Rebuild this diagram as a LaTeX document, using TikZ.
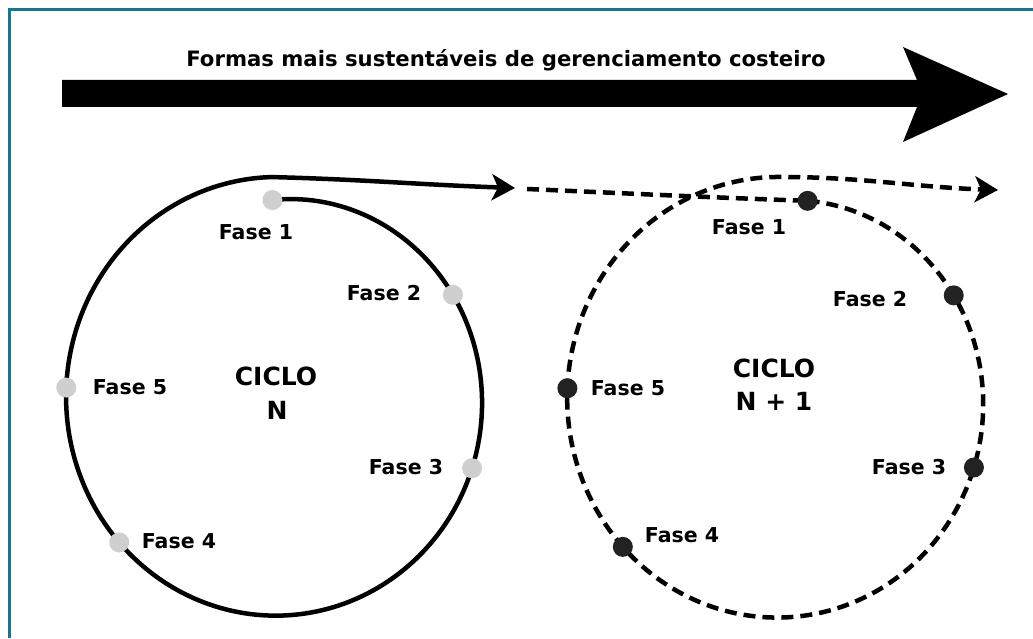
\documentclass[tikz,border=0pt]{standalone}
\usepackage{fontspec}
\setmainfont{DejaVu Sans}
\usetikzlibrary{arrows.meta}
\definecolor{frame}{HTML}{17768A}
\definecolor{dotlight}{HTML}{CFCFCF}
\definecolor{dotdark}{HTML}{222222}
\tikzset{
  declare function={
    sL(\u)=1.014-0.106*(1-\u)^4;
    lpx(\u)=277.4+208.5*sL(\u)*cos(91.5-360*\u);
    lpy(\u)=241+217*sL(\u)*sin(91.5-360*\u);
    sR(\u)=1.014-0.099*(1-\u)^4;
    rpx(\u)=778.7+208.7*sR(\u)*cos(81.3-351.3*\u);
    rpy(\u)=240+218*sR(\u)*sin(81.3-351.3*\u);
  },
  dotL/.style={circle, fill=dotlight, minimum size=20pt, inner sep=0pt},
  dotR/.style={circle, fill=dotdark, minimum size=20pt, inner sep=0pt},
  fase/.style={anchor=base, font=\bfseries\fontsize{20.5}{24}\selectfont, inner sep=0pt},
  ciclo/.style={anchor=base, font=\bfseries\fontsize{25}{30}\selectfont, inner sep=0pt},
  solidpath/.style={line width=4.5pt},
  dashpath/.style={line width=4.5pt, dash pattern=on 12pt off 7pt},
  tipped/.style={-{Stealth[length=23pt,width=26pt,inset=6pt]}},
}
\begin{document}
\begin{tikzpicture}[x=1pt,y=1pt]
\useasboundingbox (0,0) rectangle (1033,638);
\fill[white] (0,0) rectangle (1033,638);
\draw[frame, line width=3pt] (9.8,0) -- (9.8,628.2) -- (1033,628.2);

% big arrow
\fill[black] (62,558) -- (917,558) -- (903,591) -- (1008,544) -- (903,496) -- (917,531) -- (62,531) -- cycle;
\node[anchor=base, font=\bfseries\fontsize{21.2}{25}\selectfont, inner sep=0pt] (title) at (506,571) {Formas mais sustentáveis de gerenciamento costeiro};

% left cycle
\coordinate (lend) at (515,450);
\draw[solidpath, tipped] plot[domain=0:1, samples=180, variable=\u, smooth] ({lpx(\u)},{lpy(\u)})
  to[out=-1.5,in=178] (lend);
\node[dotL] (l1) at ({lpx(0)},{lpy(0)}) {};
\node[dotL] (l2) at ({lpx(0.173)},{lpy(0.173)}) {};
\node[dotL] (l3) at ({lpx(0.308)},{lpy(0.308)}) {};
\node[dotL] (l4) at ({lpx(0.639)},{lpy(0.639)}) {};
\node[dotL] (l5) at ({lpx(0.761)},{lpy(0.761)}) {};

% right cycle
\coordinate (rin) at (527,449);
\coordinate (rend) at (998,448);
\coordinate (r1pos) at ({rpx(0)},{rpy(0)});
\draw[dashpath] (rin) to[out=-2.5,in=178] (r1pos);
\draw[dashpath, tipped] plot[domain=0:1, samples=180, variable=\u, smooth] ({rpx(\u)},{rpy(\u)})
  to[out=0,in=178] (rend);
\node[dotR] (r1) at (r1pos) {};
\node[dotR] (r2) at ({rpx(0.148)},{rpy(0.148)}) {};
\node[dotR] (r3) at ({rpx(0.285)},{rpy(0.285)}) {};
\node[dotR] (r4) at ({rpx(0.623)},{rpy(0.623)}) {};
\node[dotR] (r5) at ({rpx(0.751)},{rpy(0.751)}) {};

% left labels
\node[fase] (lf1) at (256,398) {Fase 1};
\node[fase] (lf2) at (384,337) {Fase 2};
\node[fase] (lf3) at (406,164) {Fase 3};
\node[fase] (lf4) at (179,90) {Fase 4};
\node[fase] (lf5) at (130,244) {Fase 5};
\node[ciclo] (lc1) at (276,253) {CICLO};
\node[ciclo] (lc2) at (277,219) {N};

% right labels
\node[fase] (rf1) at (749,403) {Fase 1};
\node[fase] (rf2) at (870,331) {Fase 2};
\node[fase] (rf3) at (909,164) {Fase 3};
\node[fase] (rf4) at (682,96) {Fase 4};
\node[fase] (rf5) at (628,243) {Fase 5};
\node[ciclo] (rc1) at (774,261) {CICLO};
\node[ciclo] (rc2) at (774,228) {N + 1};
\end{tikzpicture}
\end{document}
